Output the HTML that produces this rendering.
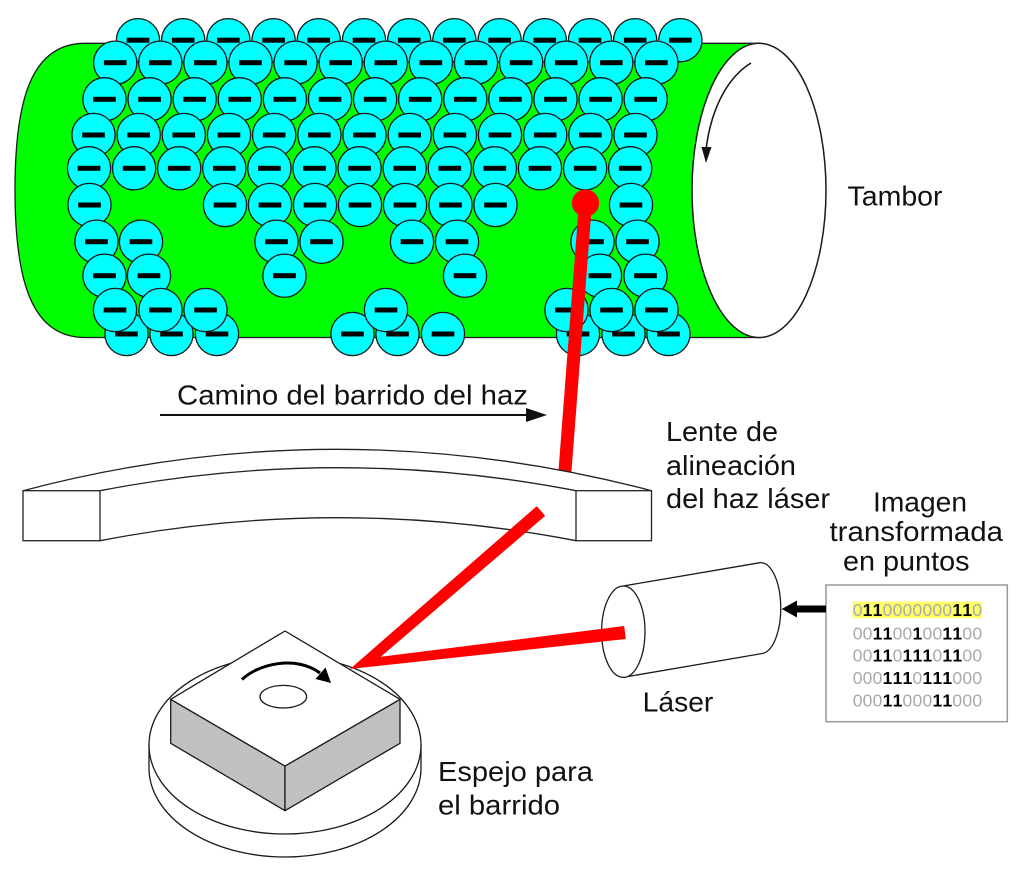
<!DOCTYPE html>
<html><head><meta charset="utf-8"><style>
html,body{margin:0;padding:0;background:#fff;}
svg{display:block;}
text{font-family:"Liberation Sans",Arial,sans-serif;}
</style></head><body>
<svg width="1024" height="871" viewBox="0 0 1024 871" xmlns="http://www.w3.org/2000/svg">
<defs>
<g id="e"><circle cx="0" cy="0" r="21.6" fill="#00ffff" stroke="#1a1a1a" stroke-width="1.3"/><rect x="-11.3" y="-2.5" width="22.6" height="5" fill="#000"/></g>
</defs>
<rect width="1024" height="871" fill="#fff"/>
<!-- drum -->
<path d="M85,43.3 L759,43.3 L759,337.5 L85,337.5 C32,337.5 15,282 15,190 C15,98 32,43.3 85,43.3 Z" fill="#00ff00" stroke="#1a1a1a" stroke-width="1.3"/>
<ellipse cx="759" cy="190.4" rx="67" ry="147.1" fill="#fff" stroke="#1a1a1a" stroke-width="1.5"/>
<path d="M751,63 C733,74 712,100 706,150" fill="none" stroke="#111" stroke-width="1.5"/>
<polygon points="706,163 701.5,147 711.5,147" fill="#111"/>
<g>
<use href="#e" x="138" y="40.2"/><use href="#e" x="183.2" y="40.2"/><use href="#e" x="228.4" y="40.2"/><use href="#e" x="273.6" y="40.2"/><use href="#e" x="318.8" y="40.2"/><use href="#e" x="364" y="40.2"/><use href="#e" x="409.2" y="40.2"/><use href="#e" x="454.4" y="40.2"/><use href="#e" x="499.6" y="40.2"/><use href="#e" x="544.8" y="40.2"/><use href="#e" x="590" y="40.2"/><use href="#e" x="635.2" y="40.2"/><use href="#e" x="680.4" y="40.2"/>
</g>
<g>
<use href="#e" x="115.2" y="62.7"/><use href="#e" x="160.3" y="62.7"/><use href="#e" x="205.4" y="62.7"/><use href="#e" x="250.5" y="62.7"/><use href="#e" x="295.6" y="62.7"/><use href="#e" x="340.7" y="62.7"/><use href="#e" x="385.8" y="62.7"/><use href="#e" x="430.9" y="62.7"/><use href="#e" x="476" y="62.7"/><use href="#e" x="521.1" y="62.7"/><use href="#e" x="566.2" y="62.7"/><use href="#e" x="611.3" y="62.7"/><use href="#e" x="656.4" y="62.7"/>
</g>
<g>
<use href="#e" x="104.5" y="99.3"/><use href="#e" x="149.6" y="99.3"/><use href="#e" x="194.7" y="99.3"/><use href="#e" x="239.8" y="99.3"/><use href="#e" x="284.9" y="99.3"/><use href="#e" x="330" y="99.3"/><use href="#e" x="375.1" y="99.3"/><use href="#e" x="420.2" y="99.3"/><use href="#e" x="465.3" y="99.3"/><use href="#e" x="510.4" y="99.3"/><use href="#e" x="555.5" y="99.3"/><use href="#e" x="600.6" y="99.3"/><use href="#e" x="645.7" y="99.3"/>
</g>
<g>
<use href="#e" x="93.5" y="135"/><use href="#e" x="138.7" y="135"/><use href="#e" x="183.8" y="135"/><use href="#e" x="229" y="135"/><use href="#e" x="274.2" y="135"/><use href="#e" x="319.4" y="135"/><use href="#e" x="364.5" y="135"/><use href="#e" x="409.7" y="135"/><use href="#e" x="454.9" y="135"/><use href="#e" x="500" y="135"/><use href="#e" x="545.2" y="135"/><use href="#e" x="590.4" y="135"/><use href="#e" x="635.5" y="135"/>
</g>
<g>
<use href="#e" x="89" y="168.3"/><use href="#e" x="134.1" y="168.3"/><use href="#e" x="179.2" y="168.3"/><use href="#e" x="224.3" y="168.3"/><use href="#e" x="269.4" y="168.3"/><use href="#e" x="314.5" y="168.3"/><use href="#e" x="359.6" y="168.3"/><use href="#e" x="404.7" y="168.3"/><use href="#e" x="449.8" y="168.3"/><use href="#e" x="494.9" y="168.3"/><use href="#e" x="540" y="168.3"/><use href="#e" x="585.1" y="168.3"/><use href="#e" x="630.2" y="168.3"/>
</g>
<g>
<use href="#e" x="89.5" y="205"/><use href="#e" x="225" y="205"/><use href="#e" x="270" y="205"/><use href="#e" x="315" y="205"/><use href="#e" x="360" y="205"/><use href="#e" x="405" y="205"/><use href="#e" x="450.5" y="205"/><use href="#e" x="495.5" y="205"/><use href="#e" x="631" y="205"/>
</g>
<g>
<use href="#e" x="96.5" y="241.7"/><use href="#e" x="141" y="241.7"/><use href="#e" x="276.5" y="241.7"/><use href="#e" x="321.5" y="241.7"/><use href="#e" x="412" y="241.7"/><use href="#e" x="457" y="241.7"/><use href="#e" x="592.5" y="241.7"/><use href="#e" x="637.5" y="241.7"/>
</g>
<g>
<use href="#e" x="104.5" y="275.7"/><use href="#e" x="149" y="275.7"/><use href="#e" x="284.5" y="275.7"/><use href="#e" x="465" y="275.7"/><use href="#e" x="600" y="275.7"/><use href="#e" x="645.5" y="275.7"/>
</g>
<g>
<use href="#e" x="126.5" y="334"/><use href="#e" x="171.5" y="334"/><use href="#e" x="217" y="334"/><use href="#e" x="352.5" y="334"/><use href="#e" x="397.5" y="334"/><use href="#e" x="443" y="334"/><use href="#e" x="578" y="334"/><use href="#e" x="623.5" y="334"/><use href="#e" x="668.5" y="334"/>
</g>
<g>
<use href="#e" x="115" y="310"/><use href="#e" x="160.5" y="310"/><use href="#e" x="205.5" y="310"/><use href="#e" x="386" y="310"/><use href="#e" x="566.5" y="310"/><use href="#e" x="611.5" y="310"/><use href="#e" x="656.5" y="310"/>
</g>
<!-- beam 1 -->
<line x1="585.5" y1="203" x2="564.6" y2="476" stroke="#ff0000" stroke-width="13"/>
<circle cx="585.5" cy="203" r="13.6" fill="#ff0000"/>
<text x="847.5" y="205.5" font-size="28" textLength="95" lengthAdjust="spacingAndGlyphs" fill="#111">Tambor</text>
<!-- scan path -->
<text x="177" y="404.5" font-size="28" textLength="351" lengthAdjust="spacingAndGlyphs" fill="#111">Camino del barrido del haz</text>
<line x1="160" y1="415" x2="530" y2="415" stroke="#111" stroke-width="2"/>
<polygon points="547,415 526,408 526,422" fill="#111"/>
<!-- lens -->
<path d="M23,490.7 Q337,407.9 651.5,490.7 L651.5,540.7 L576,540.7 Q338,494.7 100,540.7 L23,540.7 Z" fill="#fff" stroke="none"/>
<path d="M23,490.7 Q337,407.9 651.5,490.7" fill="none" stroke="#222" stroke-width="1.3"/>
<path d="M100,490.7 Q338,444.7 576,490.7" fill="none" stroke="#222" stroke-width="1.3"/>
<path d="M100,540.7 Q338,494.7 576,540.7" fill="none" stroke="#222" stroke-width="1.3"/>
<rect x="23" y="490.7" width="77" height="50" fill="#fff" stroke="#222" stroke-width="1.3"/>
<rect x="576" y="490.7" width="75.5" height="50" fill="#fff" stroke="#222" stroke-width="1.3"/>
<text x="666" y="441" font-size="28" textLength="112" lengthAdjust="spacingAndGlyphs" fill="#111">Lente de</text>
<text x="666" y="475" font-size="28" textLength="130" lengthAdjust="spacingAndGlyphs" fill="#111">alineación</text>
<text x="666" y="508" font-size="28" textLength="164" lengthAdjust="spacingAndGlyphs" fill="#111">del haz láser</text>
<!-- image labels -->
<text x="873" y="511.5" font-size="28" textLength="94" lengthAdjust="spacingAndGlyphs" fill="#111">Imagen</text>
<text x="829.5" y="541" font-size="28" textLength="173.5" lengthAdjust="spacingAndGlyphs" fill="#111">transformada</text>
<text x="843" y="570.5" font-size="28" textLength="126.5" lengthAdjust="spacingAndGlyphs" fill="#111">en puntos</text>
<!-- bits box -->
<rect x="826" y="585" width="181.3" height="136.7" fill="#fff" stroke="#999" stroke-width="1.5"/>
<rect x="852.7" y="601.7" width="129.6" height="16.6" fill="#ffff66"/>
<g font-size="17.5" fill="#aaa">
<text y="616" x="852.7 862.67 872.64 882.61 892.58 902.55 912.52 922.49 932.46 942.43 952.4 962.37 972.34">0<tspan font-weight="bold" fill="#000">11</tspan>0000000<tspan font-weight="bold" fill="#000">11</tspan>0</text>
<text y="639.3" x="852.7 862.67 872.64 882.61 892.58 902.55 912.52 922.49 932.46 942.43 952.4 962.37 972.34">00<tspan font-weight="bold" fill="#000">11</tspan>00<tspan font-weight="bold" fill="#000">1</tspan>00<tspan font-weight="bold" fill="#000">11</tspan>00</text>
<text y="661.7" x="852.7 862.67 872.64 882.61 892.58 902.55 912.52 922.49 932.46 942.43 952.4 962.37 972.34">00<tspan font-weight="bold" fill="#000">11</tspan>0<tspan font-weight="bold" fill="#000">111</tspan>0<tspan font-weight="bold" fill="#000">11</tspan>00</text>
<text y="684" x="852.7 862.67 872.64 882.61 892.58 902.55 912.52 922.49 932.46 942.43 952.4 962.37 972.34">000<tspan font-weight="bold" fill="#000">111</tspan>0<tspan font-weight="bold" fill="#000">111</tspan>000</text>
<text y="706.3" x="852.7 862.67 872.64 882.61 892.58 902.55 912.52 922.49 932.46 942.43 952.4 962.37 972.34">000<tspan font-weight="bold" fill="#000">11</tspan>000<tspan font-weight="bold" fill="#000">11</tspan>000</text>
</g>
<line x1="826" y1="609" x2="795" y2="609" stroke="#000" stroke-width="7"/>
<polygon points="781.7,609 797,600.5 797,617.5" fill="#000"/>
<!-- laser -->
<path d="M623.3,586 L760,562.7 A20,45.5 0 0 1 763.3,653.3 L623.3,677.3 Z" fill="#fff" stroke="#1a1a1a" stroke-width="1.3"/>
<ellipse cx="623.3" cy="631.7" rx="21.7" ry="45.7" fill="#fff" stroke="#1a1a1a" stroke-width="1.3"/>
<text x="642.7" y="711.7" font-size="28" textLength="70.6" lengthAdjust="spacingAndGlyphs" fill="#111">Láser</text>
<!-- mirror -->
<path d="M149,745 L149,768 A136,89 0 0 0 421,768 L421,745 Z" fill="#fff" stroke="#1a1a1a" stroke-width="1.3"/>
<ellipse cx="285" cy="745" rx="136" ry="89" fill="#fff" stroke="#1a1a1a" stroke-width="1.3"/>
<polygon points="170.7,699.3 285,766 285,810.7 170.7,743.3" fill="#c0c0c0" stroke="#1a1a1a" stroke-width="1.3" stroke-linejoin="round"/>
<polygon points="285,766 400,699.3 400,743.3 285,810.7" fill="#c0c0c0" stroke="#1a1a1a" stroke-width="1.3" stroke-linejoin="round"/>
<polygon points="285,631 400,699.3 285,766 170.7,699.3" fill="#fff" stroke="#1a1a1a" stroke-width="1.3" stroke-linejoin="round"/>
<ellipse cx="283.3" cy="696.7" rx="23.3" ry="11.3" fill="#fff" stroke="#1a1a1a" stroke-width="1.3"/>
<path d="M242,679.5 C258,664 296,655 320,673" fill="none" stroke="#000" stroke-width="3"/>
<polygon points="331,683 315.5,679 325.5,667.5" fill="#000"/>
<text x="438" y="781" font-size="28" textLength="155" lengthAdjust="spacingAndGlyphs" fill="#111">Espejo para</text>
<text x="438" y="814.3" font-size="28" textLength="122" lengthAdjust="spacingAndGlyphs" fill="#111">el barrido</text>
<!-- beams 2 and 3 -->
<polygon points="536.8,506.1 350,669 625.8,639 624.2,626 380.7,656.8 545.2,515.9" fill="#ff0000"/>
</svg>
</body></html>
